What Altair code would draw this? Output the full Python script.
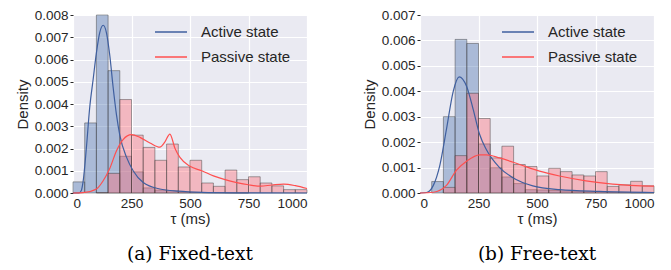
import altair as alt
import pandas as pd

# ---- data ----
bin_starts = [0, 50, 100, 150, 200, 250, 300, 350, 400, 450,
              500, 550, 600, 650, 700, 750, 800, 850, 900, 950]
bin_width = 50

fixed_active = [0.0005, 0.00315, 0.0080, 0.0055, 0.00165, 0.00095, 0.00023, 0.00013, 0.0001, 0.00005,
                0.00003, 0.00002, 0.00002, 0.00001, 0.00001, 0.0, 0.0, 0.0, 0.0, 0.0]
fixed_passive = [0.0, 0.0, 0.00002, 0.00088, 0.0042, 0.0026, 0.00205, 0.00147, 0.0022, 0.00117,
                 0.00147, 0.00045, 0.0003, 0.00103, 0.0006, 0.00073, 0.00045, 0.00032, 0.00015, 0.00015]
free_active = [0.0, 0.00045, 0.0030, 0.00604, 0.00588, 0.00193, 0.00099, 0.00063, 0.00037, 0.00013,
               0.00012, 0.0001, 0.00008, 0.00007, 0.00005, 0.00005, 0.00002, 0.00002, 0.00001, 0.00001]
free_passive = [0.0, 0.0, 0.00022, 0.00147, 0.00392, 0.00293, 0.00138, 0.00184, 0.00112, 0.00104,
                0.00067, 0.00097, 0.00084, 0.00071, 0.00067, 0.00084, 0.00026, 0.00032, 0.00046, 0.00028]

fixed_active_kde_x = [0, 25, 35, 43, 57, 71, 86, 100, 114, 129, 143, 157, 171, 186, 200, 229, 257, 300, 371, 450, 550, 700, 1000]
fixed_active_kde_y = [0, 0, 0.0001, 0.0005, 0.002, 0.0038, 0.0051, 0.0063, 0.0072, 0.00754, 0.0072, 0.0062,
                      0.0048, 0.0035, 0.0026, 0.0016, 0.001, 0.00047, 0.00018, 0.00008, 0.00003, 0.00001, 0]
fixed_passive_kde_x = [0, 50, 100, 129, 157, 186, 214, 250, 286, 329, 371, 393, 414, 436, 457, 500,
                       550, 600, 650, 700, 750, 800, 850, 900, 950, 1000]
fixed_passive_kde_y = [0, 0.00003, 0.00018, 0.00055, 0.0011, 0.0019, 0.0024, 0.00262, 0.0025, 0.00225,
                       0.00206, 0.0023, 0.00265, 0.002, 0.0016, 0.0012, 0.001, 0.00077, 0.0006, 0.00047,
                       0.00037, 0.00031, 0.00036, 0.0004, 0.00033, 0.0002]
free_active_kde_x = [0, 28, 57, 85, 113, 142, 167, 199, 227, 255, 284, 340, 397, 482, 596, 766, 1000]
free_active_kde_y = [0, 0.00002, 0.0003, 0.0011, 0.0025, 0.004, 0.00457, 0.0042, 0.0033, 0.0023, 0.0017,
                     0.001, 0.0006, 0.00028, 0.00013, 0.00006, 0.00002]
free_passive_kde_x = [0, 57, 113, 156, 199, 255, 284, 340, 426, 511, 596, 709, 823, 1000]
free_passive_kde_y = [0, 0.00003, 0.0003, 0.0009, 0.00125, 0.0015, 0.0015, 0.00138, 0.00112, 0.00086,
                      0.00067, 0.00048, 0.00035, 0.00027]

states = ["Active state", "Passive state"]
bar_groups = ["active bars", "passive bars"]
x_ticks = [0, 250, 500, 750, 1000]
captions = ["(a) Fixed-text", "(b) Free-text"]

BAR_COLORS = ["#4C72B0", "#FF6B75"]
LINE_COLORS = ["#3F5F9F", "#FF4F4F"]
SANS = "Liberation Sans"
TXT = "#262626"


def panel(active, passive, akx, aky, pkx, pky, ymax, caption):
    rows = []
    for grp, vals in ((bar_groups[0], active), (bar_groups[1], passive)):
        for s, v in zip(bin_starts, vals):
            if v > 0:
                rows.append({"start": s, "end": s + bin_width, "value": v, "grp": grp})
    bars_df = pd.DataFrame(rows)
    bars_df["ord"] = range(len(bars_df))

    lines_df = pd.concat([
        pd.DataFrame({"t": akx, "d": aky, "state": states[0]}),
        pd.DataFrame({"t": pkx, "d": pky, "state": states[1]}),
    ])

    yticks = [round(i * 0.001, 3) for i in range(int(round(ymax / 0.001)) + 1)]
    xscale = alt.Scale(domain=[0, 1000], nice=False, zero=False)
    yscale = alt.Scale(domain=[0, ymax], nice=False)
    xaxis = alt.Axis(values=x_ticks, format="d", title="τ  (ms)", grid=True, ticks=False, domain=False,
                     labelPadding=3, titlePadding=2, labelOverlap=False)
    yaxis = alt.Axis(values=yticks, format=".3f", title="Density", grid=True, ticks=True,
                     tickSize=3, domain=False, labelPadding=2, titlePadding=4, labelOverlap=False)

    bars = alt.Chart(bars_df).mark_rect(
        fillOpacity=0.4, stroke="#3a3a3a", strokeOpacity=0.45, strokeWidth=1
    ).encode(
        x=alt.X("start:Q", scale=xscale, axis=xaxis),
        x2="end:Q",
        y=alt.Y("value:Q", scale=yscale, axis=yaxis),
        y2=alt.datum(0),
        fill=alt.Fill("grp:N", scale=alt.Scale(domain=bar_groups, range=BAR_COLORS), legend=None),
        order=alt.Order("ord:Q"),
    )

    lines = alt.Chart(lines_df).mark_line(strokeWidth=1.2, interpolate="monotone").encode(
        x=alt.X("t:Q", scale=xscale, axis=xaxis),
        y=alt.Y("d:Q", scale=yscale, axis=yaxis),
        color=alt.Color("state:N", scale=alt.Scale(domain=states, range=LINE_COLORS),
                        legend=alt.Legend(orient="none", legendX=81, legendY=0, title=None,
                                          symbolType="stroke", symbolSize=1024,
                                          symbolStrokeWidth=1.5, labelFontSize=15,
                                          labelFont=SANS, labelColor=TXT, labelOffset=13,
                                          rowPadding=-15, padding=0)),
    )

    return alt.layer(bars, lines).properties(
        width=234, height=178,
        title=alt.TitleParams(text=caption, orient="bottom", font="DejaVu Serif",
                              fontSize=18.5, fontWeight="normal", color="black", offset=18),
    )


left = panel(fixed_active, fixed_passive, fixed_active_kde_x, fixed_active_kde_y,
             fixed_passive_kde_x, fixed_passive_kde_y, 0.008, captions[0])
right = panel(free_active, free_passive, free_active_kde_x, free_active_kde_y,
              free_passive_kde_x, free_passive_kde_y, 0.007, captions[1])

chart = alt.hconcat(left, right, spacing=52).resolve_scale(
    x="independent", y="independent", color="independent", fill="independent"
).resolve_legend(color="independent").properties(
    padding={"left": 7, "top": 0, "right": 0, "bottom": 0}
).configure_view(
    fill="#EAEAF2", strokeWidth=0
).configure_axis(
    gridColor="white", gridWidth=1.2, labelFont=SANS, labelFontSize=13.5, labelColor=TXT,
    titleFont=SANS, titleFontSize=15, titleFontWeight="normal", titleColor=TXT, tickColor=TXT,
)

chart.save("out.html", embed_options={"renderer": "svg", "actions": False})
